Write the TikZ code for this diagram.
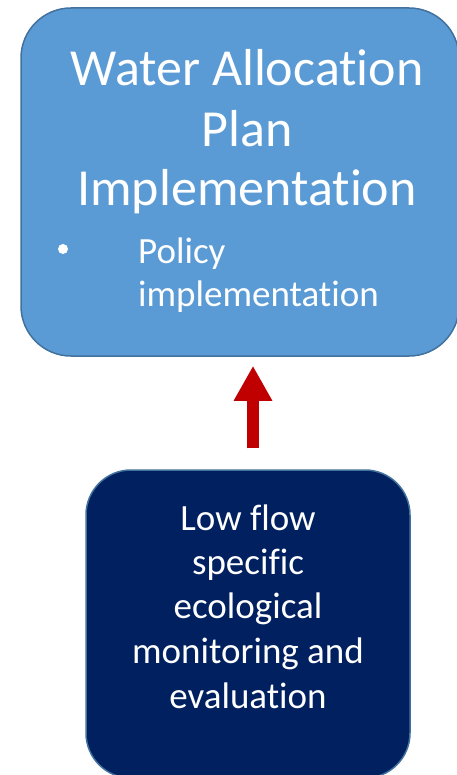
\documentclass[tikz,border=0pt]{standalone}
\usepackage{fontspec}
\setmainfont{Carlito}[Ligatures={NoCommon,NoRare,NoContextual}]
\usetikzlibrary{arrows.meta}
\definecolor{boxblue}{HTML}{5B9BD5}
\definecolor{boxline}{HTML}{41719C}
\definecolor{navy}{HTML}{002060}
\definecolor{arrowred}{HTML}{C00000}
\tikzset{
  mainbox/.style={draw=boxline, line width=1.5pt, rounded corners=50pt, inner sep=0pt},
  bigtxt/.style={text=white, anchor=base, inner sep=0pt, font=\fontsize{52}{63}\selectfont},
  smalltxt/.style={text=white, anchor=base, inner sep=0pt, font=\fontsize{37}{45}\selectfont},
  uparrow/.style={draw=arrowred, line width=12pt, -{Triangle[width=36pt,length=35pt]}}
}
\begin{document}
\begin{tikzpicture}[x=1pt,y=-1pt]
\useasboundingbox (0,0) rectangle (456,775);
% boxes
\node[mainbox, fill=boxblue, minimum width=438pt, minimum height=348pt] (top) at (240,182) {};
\node[mainbox, fill=navy, rounded corners=45pt, minimum width=324pt, minimum height=308pt] (bot) at (248,624) {};
% top text
\node[bigtxt] (t1) at (247,86) {Water Allocation};
\node[bigtxt] (t2) at (247,147) {Plan};
\node[bigtxt] (t3) at (247,206) {Implementation};
\node[fill=white, circle, inner sep=0pt, minimum size=10pt] (bul) at (63,249) {};
\node[smalltxt, anchor=base west] (p1) at (138,263) {Policy};
\node[smalltxt, anchor=base west] (p2) at (138,306) {implementation};
% bottom text
\node[smalltxt] (b1) at (248,530) {Low flow};
\node[smalltxt] (b2) at (248,574) {specific};
\node[smalltxt] (b3) at (248,618) {ecological};
\node[smalltxt] (b4) at (248,663) {monitoring and};
\node[smalltxt] (b5) at (248,708) {evaluation};
% arrow
\coordinate (ax) at (253,0);
\draw[uparrow, shorten <=21pt, shorten >=9pt] (bot.north -| ax) -- (top.south -| ax);
\end{tikzpicture}
\end{document}
